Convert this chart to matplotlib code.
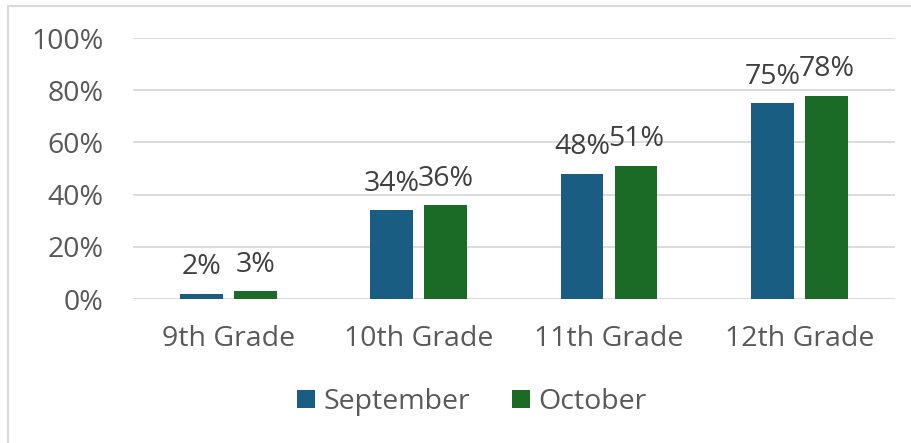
import matplotlib.pyplot as plt
import matplotlib.patches as mpatches
import numpy as np

plt.rcParams['font.family'] = ['Open Sans', 'DejaVu Sans']

# data
grades = ["9th Grade", "10th Grade", "11th Grade", "12th Grade"]
september = [2, 34, 48, 75]
october = [3, 36, 51, 78]
yticks = [0, 20, 40, 60, 80, 100]

col_sep = "#195E82"
col_oct = "#1B6A26"
txt = "#595959"
fs = 20.5

fig = plt.figure(figsize=(9.11, 4.43), dpi=100)
ax = fig.add_axes([0.146, 0.325, 0.836, 0.589])

x = np.arange(len(grades))
w = 0.225
off = 0.142
b1 = ax.bar(x - off, september, w, color=col_sep, label="September", zorder=3)
b2 = ax.bar(x + off, october, w, color=col_oct, label="October", zorder=3)

for bars, vals in [(b1, september), (b2, october)]:
    for b, v in zip(bars, vals):
        ax.annotate(f"{v}%", (b.get_x() + b.get_width() / 2, v), xytext=(0, 9),
                    textcoords="offset points", ha="center", va="bottom",
                    fontsize=fs, color="#404040")

ax.set_xlim(-0.5, 3.5)
ax.set_ylim(0, 100)
ax.set_yticks(yticks)
ax.set_yticklabels([f"{t}%" for t in yticks])
ax.set_xticks(x)
ax.set_xticklabels(grades)
ax.tick_params(axis="y", length=0, pad=21, labelsize=fs, labelcolor=txt)
ax.tick_params(axis="x", length=0, pad=19, labelsize=fs, labelcolor=txt)
ax.grid(axis="y", color="#D9D9D9", linewidth=1.3, zorder=0)
for s in ax.spines.values():
    s.set_visible(False)

fig.legend(handles=[b1, b2], loc="center", bbox_to_anchor=(0.518, 0.093), ncol=2,
           frameon=False, fontsize=fs, labelcolor=txt, handlelength=0.62,
           handleheight=0.62, handletextpad=0.3, columnspacing=1.5)

# chart frame
fig.patches.append(mpatches.Rectangle((8 / 911, -0.1), 1.2, 1.1 - 6 / 443, transform=fig.transFigure,
                                      fill=False, edgecolor="#D9D9D9", linewidth=1.5))

fig.savefig("out.png", dpi=100)
